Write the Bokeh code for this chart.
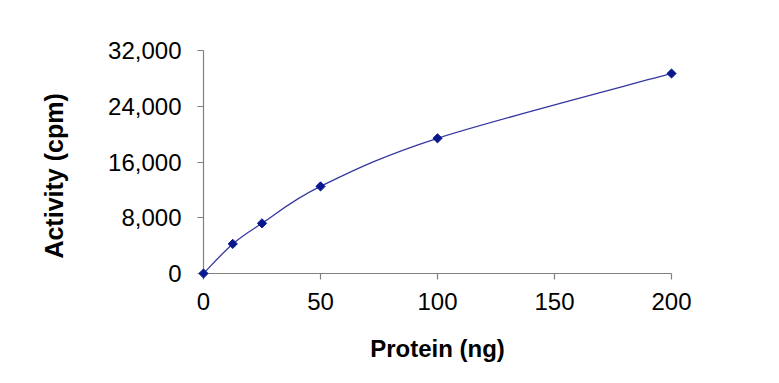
import math
from bokeh.plotting import figure
from bokeh.models import FixedTicker, NumeralTickFormatter, Range1d, ColumnDataSource
from bokeh.core.properties import value
from bokeh.embed import file_html
from bokeh.resources import INLINE

protein_ng = [0, 12.5, 25, 50, 100, 200]
activity_cpm = [0, 4250, 7200, 12500, 19400, 28700]
x_ticks = [0, 50, 100, 150, 200]
y_ticks = [0, 8000, 16000, 24000, 32000]
y_title = "Activity (cpm)"
x_title = "Protein (ng)"

FONT = "Liberation Sans"
AXIS_COLOR = "#808080"
LINE_COLOR = "#3636a0"
MARK_COLOR = "#0a1890"

p = figure(width=760, height=365, output_backend="svg", toolbar_location=None,
           x_range=Range1d(0, 200), y_range=Range1d(0, 32000),
           min_border_left=203, min_border_right=89, min_border_top=50, min_border_bottom=92)
p.outline_line_color = None
p.xgrid.visible = False
p.ygrid.visible = False
p.background_fill_color = "white"

# smoothed line (Catmull-Rom -> cubic Bezier) computed from the data
n = len(protein_ng)
seg = dict(x0=[], y0=[], x1=[], y1=[], cx0=[], cy0=[], cx1=[], cy1=[])
for i in range(n - 1):
    xa, ya = protein_ng[i], activity_cpm[i]
    xb, yb = protein_ng[i + 1], activity_cpm[i + 1]
    xp, yp = (protein_ng[i - 1], activity_cpm[i - 1]) if i > 0 else (xa, ya)
    xn, yn = (protein_ng[i + 2], activity_cpm[i + 2]) if i + 2 < n else (xb, yb)
    seg["x0"].append(xa); seg["y0"].append(ya)
    seg["x1"].append(xb); seg["y1"].append(yb)
    seg["cx0"].append(xa + (xb - xp) / 6); seg["cy0"].append(ya + (yb - yp) / 6)
    seg["cx1"].append(xb - (xn - xa) / 6); seg["cy1"].append(yb - (yn - ya) / 6)
bz = p.bezier(x0="x0", y0="y0", x1="x1", y1="y1", cx0="cx0", cy0="cy0", cx1="cx1", cy1="cy1",
              source=ColumnDataSource(seg), line_color=LINE_COLOR, line_width=1.3)
bz.level = "overlay"

sc = p.scatter(protein_ng, activity_cpm, marker="square", angle=math.pi / 4, size=6.5,
               fill_color=MARK_COLOR, line_color=MARK_COLOR)
sc.level = "overlay"

for ax in (p.xaxis[0], p.yaxis[0]):
    ax.axis_line_color = AXIS_COLOR
    ax.axis_line_width = 1.2
    ax.major_tick_line_color = AXIS_COLOR
    ax.major_tick_line_width = 1.2
    ax.major_tick_in = 0
    ax.major_tick_out = 6
    ax.minor_tick_line_color = None
    ax.major_label_text_font = FONT
    ax.major_label_text_font_size = "24px"
    ax.major_label_text_color = "#000000"

p.xaxis.ticker = FixedTicker(ticks=x_ticks)
p.yaxis.ticker = FixedTicker(ticks=y_ticks)
p.yaxis.formatter = NumeralTickFormatter(format="0,0")
p.xaxis.major_label_standoff = 13
p.yaxis.major_label_standoff = 16

p.xaxis.axis_label = x_title
p.xaxis.axis_label_text_font = FONT
p.xaxis.axis_label_text_font_style = "bold"
p.xaxis.axis_label_text_font_size = "24px"
p.xaxis.axis_label_text_color = "#000000"
p.xaxis.axis_label_standoff = 22

# y-axis title, left of the axis (drawn as unclipped text)
yt = p.text(x=[-64.0], y=[14000], text=[y_title], angle=math.pi / 2,
            text_align="center", text_baseline="middle",
            text_font=value(FONT), text_font_style="bold", text_font_size="25px",
            text_color="#000000")
yt.level = "overlay"

open("out.html", "w").write(file_html(p, INLINE))
